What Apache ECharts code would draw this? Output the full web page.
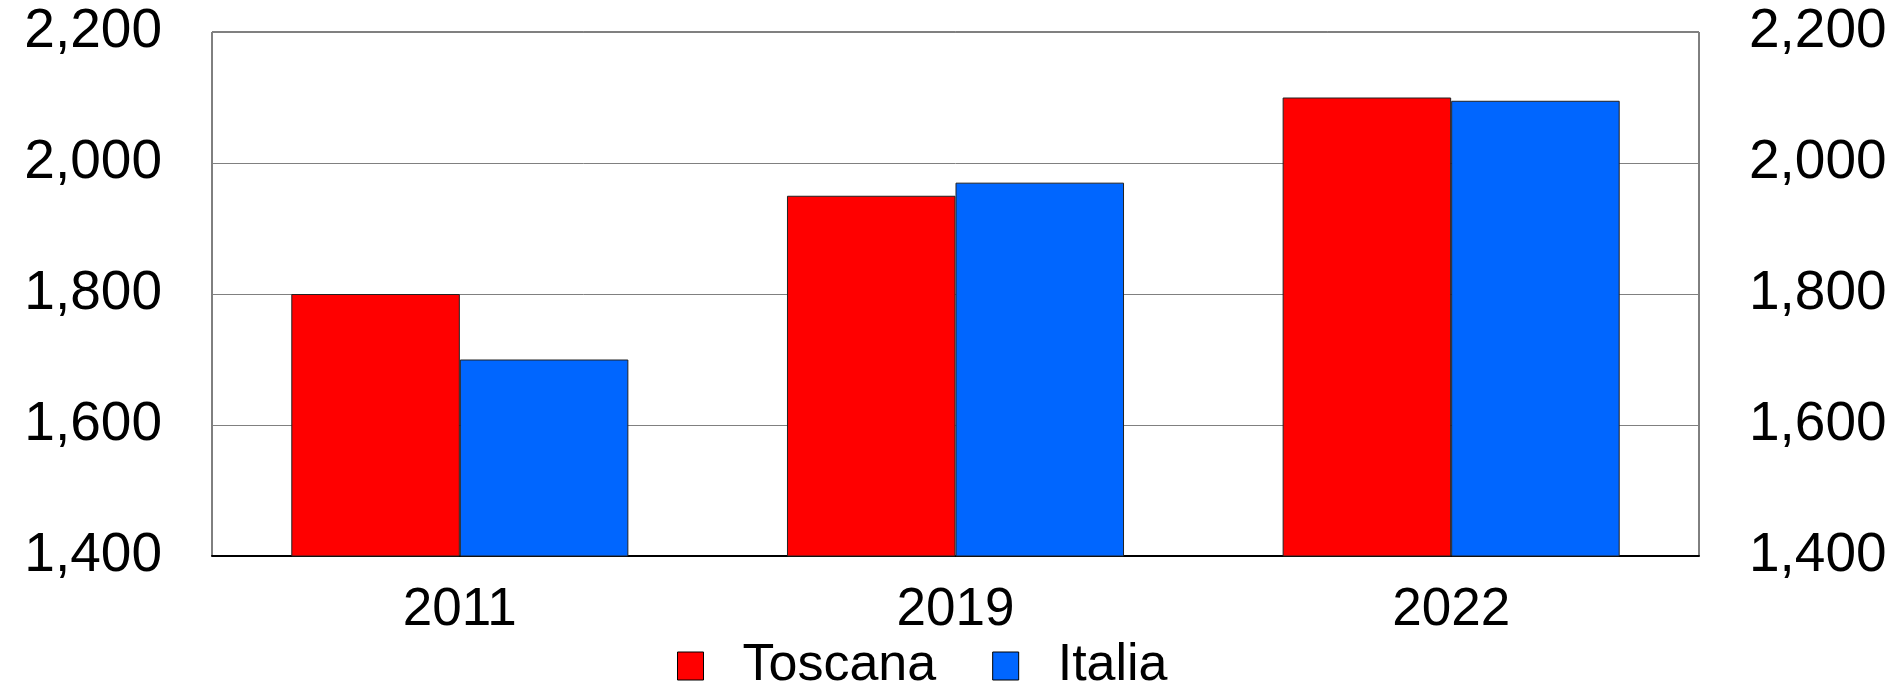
<!DOCTYPE html>
<html>
<head>
<meta charset="utf-8">
<script src="https://cdn.jsdelivr.net/npm/echarts@6/dist/echarts.min.js"></script>
<style>
html,body{margin:0;padding:0;background:#fff;}
#chart{width:1901px;height:690px;}
</style>
</head>
<body>
<div id="chart"></div>
<script>
const categories = ['2011', '2019', '2022'];
const toscana = [1800, 1950, 2100];
const italia = [1700, 1970, 2095];
const seriesNames = ['Toscana', 'Italia'];
const yMin = 1400, yMax = 2200, yStep = 200;

const chart = echarts.init(document.getElementById('chart'));
const yLabelFmt = v => v.toLocaleString('en-US');
const yAxisBase = {
  type: 'value', min: yMin, max: yMax, interval: yStep,
  axisLine: {show: false}, axisTick: {show: false},
  axisLabel: {formatter: yLabelFmt, fontFamily: 'Liberation Sans, Arial', fontSize: 55, color: '#000', margin: 50}
};
chart.setOption({
  animation: false,
  backgroundColor: '#fff',
  grid: {left: 212, right: 202, top: 32, bottom: 134, show: true, borderColor: '#000', borderWidth: 1, containLabel: false},
  legend: {
    data: seriesNames, left: 672, top: 635, itemWidth: 26, itemHeight: 28, itemGap: 56,
    icon: 'rect',
    formatter: name => '{t|' + name + '}',
    textStyle: {fontFamily: 'Liberation Sans, Arial', fontSize: 52, color: '#000',
      rich: {t: {fontFamily: 'Liberation Sans, Arial', fontSize: 52, color: '#000', padding: [0, 0, 0, 34]}}},
    itemStyle: {borderColor: '#000', borderWidth: 1}
  },
  xAxis: {
    type: 'category', data: categories,
    axisLine: {show: true, lineStyle: {color: '#000', width: 2}},
    axisTick: {show: false},
    axisLabel: {fontFamily: 'Liberation Sans, Arial', fontSize: 53, color: '#000', margin: 28}
  },
  yAxis: [
    Object.assign({}, yAxisBase, {position: 'left', splitLine: {show: true, lineStyle: {color: '#808080', width: 1}}}),
    Object.assign({}, yAxisBase, {position: 'right', splitLine: {show: false}})
  ],
  series: [
    {name: seriesNames[0], type: 'bar', data: toscana, barGap: '0%', barCategoryGap: '32%',
     itemStyle: {color: '#FF0000', borderColor: '#222', borderWidth: 1}},
    {name: seriesNames[1], type: 'bar', data: italia, barGap: '0%', barCategoryGap: '32%',
     itemStyle: {color: '#0066FF', borderColor: '#222', borderWidth: 1}}
  ]
});
</script>
</body>
</html>
